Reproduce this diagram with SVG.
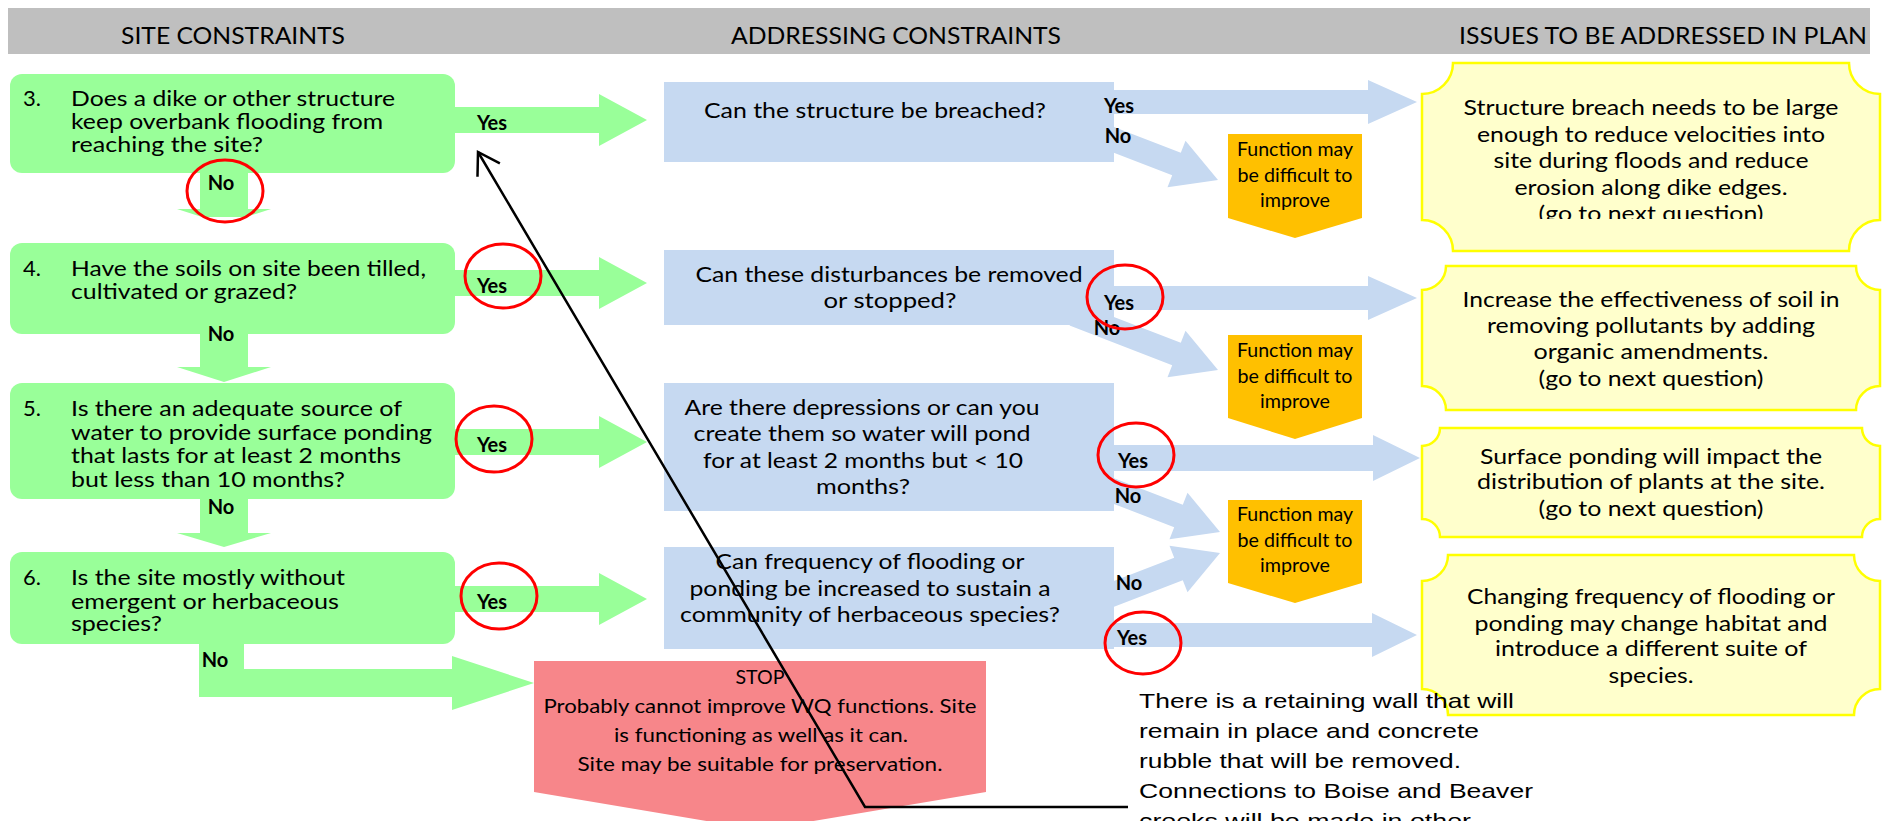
<svg xmlns="http://www.w3.org/2000/svg" width="1891" height="821" viewBox="0 0 1891 821">
<style>
.g{fill:#99FF99}
.b{fill:#C6D9F1}
.o{fill:#FFC000}
.y{fill:#FFFFCC;stroke:#FFFF00;stroke-width:2.5}
.r{fill:#F7868A}
.t{font-family:Lato,'Open Sans',sans-serif;fill:#000}
.h{font-size:24px}
.gt{font-size:22px}
.bt{font-size:21px}
.yt{font-size:22px}
.ot{font-size:19.5px}
.st{font-size:20px}
.lb{font-family:Lato,'Open Sans',sans-serif;font-weight:bold;font-size:20px;fill:#000}
.ring{fill:none;stroke:#FF0000;stroke-width:3}
.note{font-family:'Liberation Sans',Arial,sans-serif;font-size:21px;fill:#000}
.call{fill:none;stroke:#000;stroke-width:2.5}
</style>
<defs>
<marker id="open" markerUnits="userSpaceOnUse" markerWidth="40" markerHeight="40" refX="0" refY="0" viewBox="-30 -20 40 40" orient="auto" overflow="visible">
<path d="M-21,-13 L0,0 L-21,13" fill="none" stroke="#000" stroke-width="2.5"/>
</marker>
<clipPath id="y1clip"><rect x="1422" y="63" width="458" height="156"/></clipPath>
</defs>

<g id="header">
<rect x="8" y="8" width="1862" height="46" fill="#BFBFBF"/>
<text class="t h" x="233" y="44" text-anchor="middle" textLength="224" lengthAdjust="spacingAndGlyphs">SITE CONSTRAINTS</text>
<text class="t h" x="896" y="44" text-anchor="middle" textLength="330" lengthAdjust="spacingAndGlyphs">ADDRESSING CONSTRAINTS</text>
<text class="t h" x="1663" y="44" text-anchor="middle" textLength="408" lengthAdjust="spacingAndGlyphs">ISSUES TO BE ADDRESSED IN PLAN</text>
</g>

<g id="connectors">
<path class="g" d="M455,107 H599 V94 L647,120 L599,146 V133 H455 Z"/>
<path class="g" d="M455,270 H599 V257 L647,283 L599,309 V296 H455 Z"/>
<path class="g" d="M455,429 H599 V416 L647,442 L599,468 V455 H455 Z"/>
<path class="g" d="M455,586 H599 V573 L647,599 L599,625 V612 H455 Z"/>
<path class="g" d="M200,173 V209 H177 L202,217 H246 L271,209 H248 V173 Z"/>
<path class="g" d="M200,334 V367 H177 L224,382 L271,367 H248 V334 Z"/>
<path class="g" d="M200,499 V533 H177 L224,547 L271,533 H248 V499 Z"/>
<path class="g" d="M199,644 V697 H452 V710 L534,683 L452,656 V669 H244 V644 Z"/>
<path class="b" d="M1110,90 H1368 V80 L1417,102 L1368,124 V114 H1110 Z"/>
<path class="b" d="M1110,286 H1368 V276 L1417,298 L1368,320 V310 H1110 Z"/>
<path class="b" d="M1110,445 H1373 V435 L1420,458 L1373,481 V471 H1110 Z"/>
<path class="b" d="M1110,623 H1372 V613 L1417,635 L1372,657 V647 H1110 Z"/>
<path class="b" d="M1104.3,123.3 L1180.8,152.8 L1185.5,140.7 L1218,180 L1167.5,187.3 L1172.2,175.2 L1095.7,145.7 Z"/>
<path class="b" d="M1078.2,303.2 L1180.8,342.8 L1185.5,330.7 L1218,370 L1167.5,377.3 L1172.2,365.2 L1069.6,325.6 Z"/>
<path class="b" d="M1106.3,475.3 L1182.8,504.8 L1187.5,492.7 L1220,532 L1169.5,539.3 L1174.2,527.2 L1097.7,497.7 Z"/>
<path class="b" d="M1106.3,609.7 L1182.8,580.2 L1187.5,592.3 L1220,553 L1169.5,545.7 L1174.2,557.8 L1097.7,587.3 Z"/>
</g>

<g id="q3">
<rect class="g" x="10" y="74" width="445" height="99" rx="12"/>
<text class="t gt" x="23" y="106">3.</text>
<text class="t gt" x="71" y="106" textLength="324" lengthAdjust="spacingAndGlyphs">Does a dike or other structure</text>
<text class="t gt" x="71" y="129" textLength="312" lengthAdjust="spacingAndGlyphs">keep overbank flooding from</text>
<text class="t gt" x="71" y="152" textLength="192" lengthAdjust="spacingAndGlyphs">reaching the site?</text>
</g>
<g id="q4">
<rect class="g" x="10" y="243" width="445" height="91" rx="12"/>
<text class="t gt" x="23" y="276">4.</text>
<text class="t gt" x="71" y="276" textLength="355" lengthAdjust="spacingAndGlyphs">Have the soils on site been tilled,</text>
<text class="t gt" x="71" y="299" textLength="226" lengthAdjust="spacingAndGlyphs">cultivated or grazed?</text>
</g>
<g id="q5">
<rect class="g" x="10" y="383" width="445" height="116" rx="12"/>
<text class="t gt" x="23" y="416">5.</text>
<text class="t gt" x="71" y="416" textLength="331" lengthAdjust="spacingAndGlyphs">Is there an adequate source of</text>
<text class="t gt" x="71" y="440" textLength="361" lengthAdjust="spacingAndGlyphs">water to provide surface ponding</text>
<text class="t gt" x="71" y="463" textLength="330" lengthAdjust="spacingAndGlyphs">that lasts for at least 2 months</text>
<text class="t gt" x="71" y="487" textLength="274" lengthAdjust="spacingAndGlyphs">but less than 10 months?</text>
</g>
<g id="q6">
<rect class="g" x="10" y="552" width="445" height="92" rx="12"/>
<text class="t gt" x="23" y="585">6.</text>
<text class="t gt" x="71" y="585" textLength="274" lengthAdjust="spacingAndGlyphs">Is the site mostly without</text>
<text class="t gt" x="71" y="609" textLength="268" lengthAdjust="spacingAndGlyphs">emergent or herbaceous</text>
<text class="t gt" x="71" y="631" textLength="91" lengthAdjust="spacingAndGlyphs">species?</text>
</g>

<g id="a1">
<rect class="b" x="664" y="82" width="450" height="80"/>
<text class="t bt" x="875" y="118" text-anchor="middle" textLength="342" lengthAdjust="spacingAndGlyphs">Can the structure be breached?</text>
</g>
<g id="a2">
<rect class="b" x="664" y="250" width="450" height="75"/>
<text class="t bt" x="889" y="282" text-anchor="middle" textLength="387" lengthAdjust="spacingAndGlyphs">Can these disturbances be removed</text>
<text class="t bt" x="890" y="308" text-anchor="middle" textLength="133" lengthAdjust="spacingAndGlyphs">or stopped?</text>
</g>
<g id="a3">
<rect class="b" x="664" y="383" width="450" height="128"/>
<text class="t bt" x="862" y="415" text-anchor="middle" textLength="355" lengthAdjust="spacingAndGlyphs">Are there depressions or can you</text>
<text class="t bt" x="862" y="441" text-anchor="middle" textLength="337" lengthAdjust="spacingAndGlyphs">create them so water will pond</text>
<text class="t bt" x="863" y="468" text-anchor="middle" textLength="320" lengthAdjust="spacingAndGlyphs">for at least 2 months but &lt; 10</text>
<text class="t bt" x="863" y="494" text-anchor="middle" textLength="94" lengthAdjust="spacingAndGlyphs">months?</text>
</g>
<g id="a4">
<rect class="b" x="664" y="547" width="450" height="102"/>
<text class="t bt" x="870" y="569" text-anchor="middle" textLength="309" lengthAdjust="spacingAndGlyphs">Can frequency of flooding or</text>
<text class="t bt" x="870" y="596" text-anchor="middle" textLength="361" lengthAdjust="spacingAndGlyphs">ponding be increased to sustain a</text>
<text class="t bt" x="870" y="622" text-anchor="middle" textLength="380" lengthAdjust="spacingAndGlyphs">community of herbaceous species?</text>
</g>

<g id="f1">
<polygon class="o" points="1228,134 1362,134 1362,218 1295,238 1228,218"/>
<text class="t ot" x="1295" y="156" text-anchor="middle" textLength="116" lengthAdjust="spacingAndGlyphs">Function may</text>
<text class="t ot" x="1295" y="182" text-anchor="middle" textLength="115" lengthAdjust="spacingAndGlyphs">be difficult to</text>
<text class="t ot" x="1295" y="207" text-anchor="middle" textLength="70" lengthAdjust="spacingAndGlyphs">improve</text>
</g>
<g id="f2">
<polygon class="o" points="1228,335 1362,335 1362,418 1295,439 1228,418"/>
<text class="t ot" x="1295" y="357" text-anchor="middle" textLength="116" lengthAdjust="spacingAndGlyphs">Function may</text>
<text class="t ot" x="1295" y="383" text-anchor="middle" textLength="115" lengthAdjust="spacingAndGlyphs">be difficult to</text>
<text class="t ot" x="1295" y="408" text-anchor="middle" textLength="70" lengthAdjust="spacingAndGlyphs">improve</text>
</g>
<g id="f3">
<polygon class="o" points="1228,500 1362,500 1362,583 1295,603 1228,583"/>
<text class="t ot" x="1295" y="521" text-anchor="middle" textLength="116" lengthAdjust="spacingAndGlyphs">Function may</text>
<text class="t ot" x="1295" y="547" text-anchor="middle" textLength="115" lengthAdjust="spacingAndGlyphs">be difficult to</text>
<text class="t ot" x="1295" y="572" text-anchor="middle" textLength="70" lengthAdjust="spacingAndGlyphs">improve</text>
</g>

<g id="i1">
<path class="y" d="M1453,63 H1849 A31 31 0 0 0 1880,94 V220 A31 31 0 0 0 1849,251 H1453 A31 31 0 0 0 1422,220 V94 A31 31 0 0 0 1453,63 Z"/>
<g clip-path="url(#y1clip)">
<text class="t yt" x="1651" y="115" text-anchor="middle" textLength="375" lengthAdjust="spacingAndGlyphs">Structure breach needs to be large</text>
<text class="t yt" x="1651" y="141.5" text-anchor="middle" textLength="348" lengthAdjust="spacingAndGlyphs">enough to reduce velocities into</text>
<text class="t yt" x="1651" y="168" text-anchor="middle" textLength="315" lengthAdjust="spacingAndGlyphs">site during floods and reduce</text>
<text class="t yt" x="1651" y="194.5" text-anchor="middle" textLength="273" lengthAdjust="spacingAndGlyphs">erosion along dike edges.</text>
<text class="t yt" x="1651" y="221" text-anchor="middle" textLength="225" lengthAdjust="spacingAndGlyphs">(go to next question)</text>
</g>
</g>
<g id="i2">
<path class="y" d="M1446,266 H1856 A24 24 0 0 0 1880,290 V386 A24 24 0 0 0 1856,410 H1446 A24 24 0 0 0 1422,386 V290 A24 24 0 0 0 1446,266 Z"/>
<text class="t yt" x="1651" y="307" text-anchor="middle" textLength="377" lengthAdjust="spacingAndGlyphs">Increase the effectiveness of soil in</text>
<text class="t yt" x="1651" y="333" text-anchor="middle" textLength="328" lengthAdjust="spacingAndGlyphs">removing pollutants by adding</text>
<text class="t yt" x="1651" y="359" text-anchor="middle" textLength="235" lengthAdjust="spacingAndGlyphs">organic amendments.</text>
<text class="t yt" x="1651" y="386" text-anchor="middle" textLength="225" lengthAdjust="spacingAndGlyphs">(go to next question)</text>
</g>
<g id="i3">
<path class="y" d="M1440,428 H1862 A18 18 0 0 0 1880,446 V519 A18 18 0 0 0 1862,537 H1440 A18 18 0 0 0 1422,519 V446 A18 18 0 0 0 1440,428 Z"/>
<text class="t yt" x="1651" y="464" text-anchor="middle" textLength="342" lengthAdjust="spacingAndGlyphs">Surface ponding will impact the</text>
<text class="t yt" x="1651" y="489" text-anchor="middle" textLength="348" lengthAdjust="spacingAndGlyphs">distribution of plants at the site.</text>
<text class="t yt" x="1651" y="516" text-anchor="middle" textLength="225" lengthAdjust="spacingAndGlyphs">(go to next question)</text>
</g>
<g id="i4">
<path class="y" d="M1448,555 H1854 A26 26 0 0 0 1880,581 V689 A26 26 0 0 0 1854,715 H1448 A26 26 0 0 0 1422,689 V581 A26 26 0 0 0 1448,555 Z"/>
<text class="t yt" x="1651" y="604" text-anchor="middle" textLength="368" lengthAdjust="spacingAndGlyphs">Changing frequency of flooding or</text>
<text class="t yt" x="1651" y="631" text-anchor="middle" textLength="353" lengthAdjust="spacingAndGlyphs">ponding may change habitat and</text>
<text class="t yt" x="1651" y="656" text-anchor="middle" textLength="312" lengthAdjust="spacingAndGlyphs">introduce a different suite of</text>
<text class="t yt" x="1651" y="683" text-anchor="middle" textLength="85" lengthAdjust="spacingAndGlyphs">species.</text>
</g>

<g id="stop">
<polygon class="r" points="534,661 986,661 986,792 760,830 534,792"/>
<text class="t st" x="760" y="684" text-anchor="middle" textLength="49" lengthAdjust="spacingAndGlyphs">STOP</text>
<text class="t st" x="760" y="713" text-anchor="middle" textLength="433" lengthAdjust="spacingAndGlyphs">Probably cannot improve WQ functions. Site</text>
<text class="t st" x="761" y="742" text-anchor="middle" textLength="294" lengthAdjust="spacingAndGlyphs">is functioning as well as it can.</text>
<text class="t st" x="760" y="771" text-anchor="middle" textLength="365" lengthAdjust="spacingAndGlyphs">Site may be suitable for preservation.</text>
</g>

<g id="labels">
<text class="lb" x="492" y="130" text-anchor="middle">Yes</text>
<text class="lb" x="492" y="293" text-anchor="middle">Yes</text>
<text class="lb" x="492" y="452" text-anchor="middle">Yes</text>
<text class="lb" x="492" y="609" text-anchor="middle">Yes</text>
<text class="lb" x="221" y="190" text-anchor="middle">No</text>
<text class="lb" x="221" y="341" text-anchor="middle">No</text>
<text class="lb" x="221" y="514" text-anchor="middle">No</text>
<text class="lb" x="215" y="667" text-anchor="middle">No</text>
<text class="lb" x="1119" y="113" text-anchor="middle">Yes</text>
<text class="lb" x="1118" y="143" text-anchor="middle">No</text>
<text class="lb" x="1119" y="310" text-anchor="middle">Yes</text>
<text class="lb" x="1107" y="335" text-anchor="middle">No</text>
<text class="lb" x="1133" y="468" text-anchor="middle">Yes</text>
<text class="lb" x="1128" y="503" text-anchor="middle">No</text>
<text class="lb" x="1129" y="590" text-anchor="middle">No</text>
<text class="lb" x="1132" y="645" text-anchor="middle">Yes</text>
</g>

<g id="rings">
<ellipse class="ring" cx="225" cy="191" rx="38" ry="31"/>
<ellipse class="ring" cx="503" cy="276" rx="38" ry="32"/>
<ellipse class="ring" cx="494" cy="439" rx="38" ry="33"/>
<ellipse class="ring" cx="499" cy="596" rx="38" ry="33"/>
<ellipse class="ring" cx="1125" cy="297" rx="38" ry="32"/>
<ellipse class="ring" cx="1136" cy="455" rx="38" ry="32"/>
<ellipse class="ring" cx="1143" cy="643" rx="38" ry="31"/>
</g>

<g id="note">
<text class="note" x="1139" y="708" textLength="375" lengthAdjust="spacingAndGlyphs">There is a retaining wall that will</text>
<text class="note" x="1139" y="738" textLength="340" lengthAdjust="spacingAndGlyphs">remain in place and concrete</text>
<text class="note" x="1139" y="768" textLength="322" lengthAdjust="spacingAndGlyphs">rubble that will be removed.</text>
<text class="note" x="1139" y="798" textLength="394" lengthAdjust="spacingAndGlyphs">Connections to Boise and Beaver</text>
<text class="note" x="1139" y="828" textLength="332" lengthAdjust="spacingAndGlyphs">creeks will be made in other</text>
</g>

<g id="callout">
<path class="call" d="M1128,807 H865 L478,152" marker-end="url(#open)"/>
</g>
</svg>
